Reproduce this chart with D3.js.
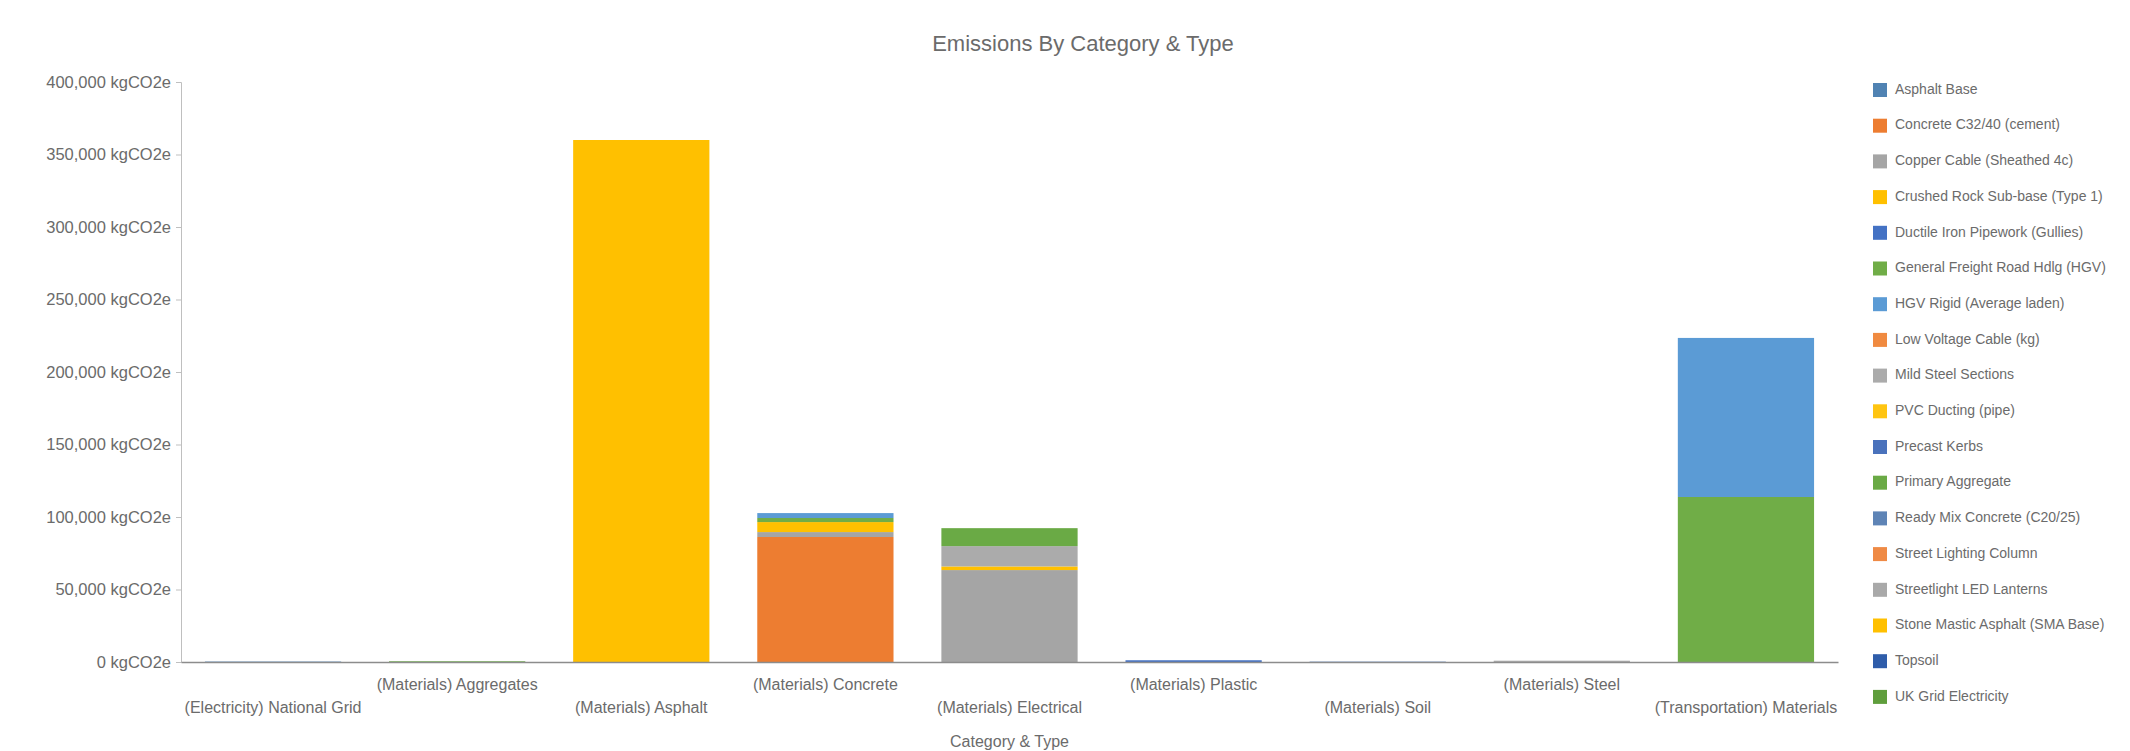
<!DOCTYPE html>
<html><head><meta charset="utf-8">
<script src="https://cdn.jsdelivr.net/npm/d3@7"></script>
<style>html,body{margin:0;padding:0;background:#fff;}svg{display:block;font-family:"Liberation Sans",Arial,sans-serif;}</style>
</head><body>
<svg id="chart" width="2130" height="751"></svg>
<script>
const categories = ["(Electricity) National Grid","(Materials) Aggregates","(Materials) Asphalt","(Materials) Concrete","(Materials) Electrical","(Materials) Plastic","(Materials) Soil","(Materials) Steel","(Transportation) Materials"];
const seriesNames = [
 "Asphalt Base",
 "Concrete C32/40 (cement)",
 "Copper Cable (Sheathed 4c)",
 "Crushed Rock Sub-base (Type 1)",
 "Ductile Iron Pipework (Gullies)",
 "General Freight Road Hdlg (HGV)",
 "HGV Rigid (Average laden)",
 "Low Voltage Cable (kg)",
 "Mild Steel Sections",
 "PVC Ducting (pipe)",
 "Precast Kerbs",
 "Primary Aggregate",
 "Ready Mix Concrete (C20/25)",
 "Street Lighting Column",
 "Streetlight LED Lanterns",
 "Stone Mastic Asphalt (SMA Base)",
 "Topsoil",
 "UK Grid Electricity"
];
const seriesColors = ["#5083B3","#ED7D31","#A5A5A5","#FFC000","#4472C4","#70AD47","#5B9BD5","#F08A40","#ABABAB","#FFC511","#4A72BC","#6AAA45","#5E84B6","#EF8A45","#A9A9A9","#FFC000","#2F5DAA","#5F9E3C"];
// values per series (kgCO2e), one entry per category
const seriesValues = [
 [300,0,0,0,0,0,0,0,0],
 [0,0,0,86200,0,0,0,0,0],
 [0,0,0,3400,63400,0,0,0,0],
 [0,0,0,6900,2500,0,0,0,0],
 [0,0,0,0,0,1200,0,0,0],
 [0,0,0,2800,0,0,0,0,113800],
 [0,0,0,3400,0,0,0,0,109700],
 [0,0,0,0,0,0,0,0,0],
 [0,0,0,0,14000,0,0,900,0],
 [0,0,0,0,0,0,0,0,0],
 [0,0,0,0,0,0,0,0,0],
 [0,500,0,0,12400,0,0,0,0],
 [0,0,0,0,0,0,0,0,0],
 [0,0,0,0,0,0,0,0,0],
 [0,0,0,0,0,0,0,0,0],
 [0,0,360000,0,0,0,0,0,0],
 [0,0,0,0,0,0,200,0,0],
 [0,0,0,0,0,0,0,0,0]
];
const yTicks = [0,50000,100000,150000,200000,250000,300000,350000,400000];
const titleText = "Emissions By Category & Type";
const xTitleText = "Category & Type";

const svg = d3.select("#chart");
const plot = {left:181, right:1838, top:82, bottom:662};
const textColor = "#6b6b6b";

const x = d3.scaleBand().domain(categories).range([plot.left, plot.right]).paddingInner(0.26).paddingOuter(0.13);
const y = d3.scaleLinear().domain([0,400000]).range([plot.bottom, plot.top]);

const rows = categories.map((c,i)=>{const o={cat:c}; seriesNames.forEach((s,j)=>o[s]=seriesValues[j][i]); return o;});
const stacked = d3.stack().keys(seriesNames)(rows);

// Title
svg.append("text").attr("x",1083).attr("y",45).attr("text-anchor","middle").attr("dominant-baseline","middle")
 .attr("font-size",22).attr("fill",textColor).text(titleText);

// Y axis
const yAxis = d3.axisLeft(y).tickValues(yTicks).tickSize(5).tickPadding(5)
 .tickFormat(d=>d3.format(",")(d)+" kgCO2e");
const gy = svg.append("g").attr("transform",`translate(${plot.left},0)`).call(yAxis);
gy.select(".domain").attr("stroke","#bfbfbf");
gy.selectAll(".tick line").attr("stroke","#bfbfbf");
gy.selectAll(".tick text").attr("font-size",16.5).attr("fill",textColor).attr("font-family","Liberation Sans, Arial, sans-serif");

// Bars
svg.append("g").selectAll("g").data(stacked).join("g").attr("fill",(d,i)=>seriesColors[i])
 .selectAll("rect").data(d=>d.filter(p=>p[1]-p[0]>0)).join("rect")
 .attr("x",d=>x(d.data.cat)).attr("width",x.bandwidth())
 .attr("y",d=>y(d[1])).attr("height",d=>Math.max(0.8,y(d[0])-y(d[1])));

// X axis
const xAxis = d3.axisBottom(x).tickSize(0).tickPadding(0);
const gx = svg.append("g").attr("transform",`translate(0,${plot.bottom})`).call(xAxis);
gx.select(".domain").attr("stroke","#8c8c8c").attr("stroke-width",1.5);
gx.selectAll(".tick text").attr("font-size",16).attr("fill",textColor)
 .attr("font-family","Liberation Sans, Arial, sans-serif")
 .attr("dy",null).attr("dominant-baseline","middle")
 .attr("y",(d,i)=> i%2===0 ? 47 : 24);

// X axis title
svg.append("text").attr("x",(plot.left+plot.right)/2).attr("y",743).attr("text-anchor","middle").attr("dominant-baseline","middle")
 .attr("font-size",16).attr("fill",textColor).text(xTitleText);

// Legend
const lg = svg.append("g");
const items = lg.selectAll("g").data(seriesNames).join("g")
 .attr("transform",(d,i)=>`translate(1873,${90+i*35.7})`);
items.append("rect").attr("x",0).attr("y",-7).attr("width",14).attr("height",14).attr("fill",(d,i)=>seriesColors[i]);
items.append("text").attr("x",22).attr("y",0).attr("dominant-baseline","middle").attr("font-size",14).attr("fill",textColor).text(d=>d);
</script>
</body></html>
